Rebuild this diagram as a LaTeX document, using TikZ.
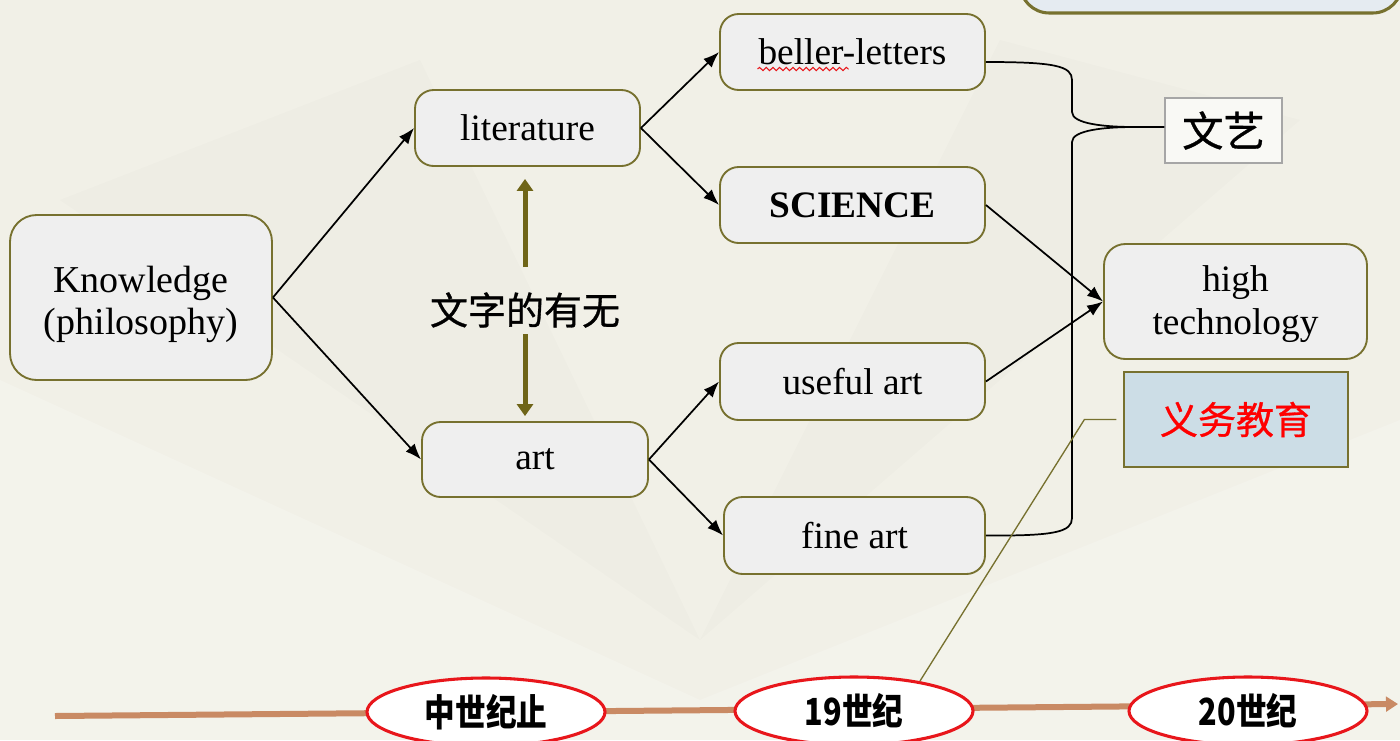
\documentclass[tikz,border=0pt]{standalone}
\usepackage{fontspec}
\setmainfont{Liberation Serif}
\newfontfamily\cjk{Noto Sans CJK SC}
\newfontfamily\cjkfb[FakeBold=0.8]{Noto Sans CJK SC}
\usetikzlibrary{arrows.meta,calc,shapes.geometric,decorations.pathmorphing}
\definecolor{bgc}{HTML}{F1F0E7}
\definecolor{boxfill}{HTML}{EFEFEF}
\definecolor{boxline}{HTML}{77712F}
\definecolor{olivearr}{HTML}{6F6518}
\definecolor{bluefill}{HTML}{CCDDE6}
\definecolor{topfill}{HTML}{E5EBF1}
\definecolor{timec}{HTML}{C98A64}
\definecolor{ellred}{HTML}{E8161B}
\tikzset{
  box/.style={draw=boxline, line width=1.4pt, fill=boxfill, rounded corners=14pt,
    inner sep=0pt, align=center, font=\fontsize{28}{31}\selectfont},
  conn/.style={draw=black, line width=1.3pt, -{Latex[length=12pt,width=9pt]}},
  brace/.style={draw=black, line width=1.3pt},
  ell/.style={ellipse, draw=ellred, line width=2.3pt, fill=white, inner sep=0pt,
    minimum width=178.5pt, minimum height=51pt},
  elltext/.style={font=\cjk\bfseries\fontsize{28}{30}\selectfont}
}
\begin{document}
\begin{tikzpicture}[x=0.75pt,y=-0.75pt]
\useasboundingbox (0,0) rectangle (1400,740);
\fill[bgc] (0,0) rectangle (1400,740);
% faint background shapes
\fill[white,opacity=0.2] (0,380) -- (700,700) -- (1400,420) -- (1400,740) -- (0,740) -- cycle;
\fill[gray,opacity=0.025] (60,200) -- (700,640) -- (420,60) -- cycle;
\fill[gray,opacity=0.025] (700,640) -- (1300,120) -- (1000,40) -- cycle;

% top partial box
\draw[draw=boxline, line width=2.3pt, fill=topfill, rounded corners=22pt]
  (1020,-60) rectangle (1402,13);

% nodes
\node[box, rounded corners=20pt, minimum width=196.5pt, minimum height=123.75pt] (know) at (141,297.5) {};
\node[align=center, inner sep=0pt, font=\fontsize{28.5}{31.5}\selectfont] (knowt) at (141,304) {Knowledge\\(philosophy)};
\node[box, minimum width=168.75pt, minimum height=57pt] (lit) at (527.5,128) {literature};
\node[box, minimum width=169.5pt, minimum height=56.25pt] (art) at (535,459.5) {art};
\node[box, minimum width=198.75pt, minimum height=57pt] (bel) at (852.5,52) {beller-letters};
\node[box, minimum width=198.75pt, minimum height=57pt] (sci) at (852.5,205) {\textbf{SCIENCE}};
\node[box, minimum width=198.75pt, minimum height=57.75pt] (use) at (852.5,381.5) {useful art};
\node[box, minimum width=195.75pt, minimum height=57.75pt] (fine) at (854.5,535.5) {fine art};
\node[box, rounded corners=16pt, minimum width=197.25pt, minimum height=86.25pt] (ht) at (1235.5,301.5) {};
\node[align=center, inner sep=0pt, font=\fontsize{28}{32}\selectfont] (htt) at (1235.5,304) {high\\technology};
\node[draw=gray!70, line width=1pt, fill=white!60!bgc, inner sep=0pt, minimum width=87.75pt, minimum height=48.75pt, font=\cjkfb\fontsize{31}{33}\selectfont] (wy) at (1223.5,130.5) {文艺};
\node[draw=boxline, line width=1.4pt, fill=bluefill, inner sep=0pt, minimum width=168pt, minimum height=71.25pt, text=red, font=\cjkfb\fontsize{28.5}{30}\selectfont] (yw) at (1236,419.5) {义务教育};
\node[inner sep=0pt, font=\cjkfb\fontsize{28.5}{30}\selectfont] (wz) at (525,310) {文字的有无};

% spell-check underline
\draw[ellred, line width=0.8pt, decorate, decoration={snake, amplitude=1.2pt, segment length=5pt}]
  ($(bel.center)+(-95,17)$) -- ($(bel.center)+(-4,17)$);

% connectors
\draw[conn] (know.east) -- (lit.west);
\draw[conn] (know.east) -- (art.west);
\draw[conn] (lit.east) -- (bel.west);
\draw[conn] (lit.east) -- (sci.west);
\draw[conn] (art.east) -- (use.west);
\draw[conn] (art.east) -- (fine.west);
\draw[conn] (sci.east) -- (ht.west);
\draw[conn] (use.east) -- (ht.west);

% brace to 文艺
\draw[brace] ([yshift=-7.5pt]bel.east) .. controls (1055,62) and (1072,66) .. (1072,80)
  -- (1072,112) .. controls (1072,124) and (1105,127) .. (1135,127) -- (wy.west |- 0,127);
\draw[brace] (fine.east) .. controls (1055,536) and (1072,532) .. (1072,518)
  -- (1072,142) .. controls (1072,130) and (1105,127) .. (1135,127);

% olive double arrow
\draw[olivearr, line width=3.75pt, -{Triangle[length=9pt,width=12pt]}] ($(wz.center)+(0,-43)$) -- ($(wz.center |- lit.south)+(0,12)$);
\draw[olivearr, line width=3.75pt, -{Triangle[length=9pt,width=12pt]}] ($(wz.center)+(0,24)$) -- ($(wz.center |- art.north)+(0,-5)$);

% timeline
\coordinate (tl0) at (55,716);
\coordinate (tl1) at (1398,704);
\draw[timec, line width=4.5pt, -{Triangle[length=9pt,width=11pt]}] (tl0) -- (tl1);
\node[ell] (t1) at (486,712) {};
\node[ell] (t19) at (854,711) {};
\node[ell] (t20) at (1248,711) {};
\node[elltext, xscale=0.82] at (t1) {中世纪止};
\node[elltext, xscale=0.82] at (t19) {19世纪};
\node[elltext, xscale=0.82] at (t20) {20世纪};

% pointer line from 义务教育
\coordinate (e19) at (920,681);
\draw[boxline, line width=1pt] ([xshift=-5pt]yw.west) -- ++(-32,0) -- (e19);
\end{tikzpicture}
\end{document}
